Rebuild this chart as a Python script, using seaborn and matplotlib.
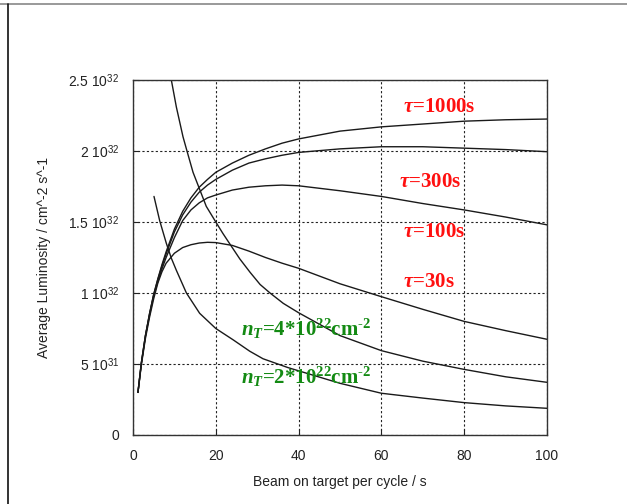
import numpy as np
import pandas as pd
import matplotlib
matplotlib.use('Agg')
import matplotlib.pyplot as plt
import seaborn as sns
from matplotlib.lines import Line2D

# beam on target per cycle (s); luminosity in units of 1e32 cm^-2 s^-1
t_rise = [1.2, 2, 3, 4, 5, 6, 7, 8, 10, 12, 14, 16, 18, 20, 24, 28, 32, 36, 40,
          50, 60, 70, 80, 90, 100]
lum_tau1000 = [0.30, 0.505, 0.70, 0.855, 0.99, 1.10, 1.20, 1.29, 1.45, 1.575, 1.67, 1.745, 1.80,
               1.85, 1.915, 1.97, 2.015, 2.055, 2.085, 2.14, 2.17, 2.19, 2.21, 2.22, 2.225]
lum_tau300 = [0.30, 0.505, 0.70, 0.855, 0.99, 1.095, 1.19, 1.275, 1.43, 1.55, 1.64, 1.71, 1.76,
              1.80, 1.865, 1.915, 1.945, 1.97, 1.99, 2.015, 2.03, 2.03, 2.02, 2.01, 1.995]
lum_tau100 = [0.30, 0.50, 0.695, 0.845, 0.98, 1.08, 1.17, 1.25, 1.39, 1.51, 1.585, 1.635, 1.67,
              1.69, 1.725, 1.745, 1.755, 1.76, 1.755, 1.72, 1.68, 1.63, 1.585, 1.535, 1.48]
lum_tau30 = [0.30, 0.49, 0.68, 0.83, 0.96, 1.07, 1.15, 1.21, 1.28, 1.32, 1.34, 1.352, 1.357,
             1.355, 1.335, 1.295, 1.25, 1.21, 1.174, 1.065, 0.974, 0.885, 0.80, 0.735, 0.674]

t_n4 = [9.26, 10.47, 12.08, 13.04, 14.5, 16.1, 17.7, 20.0, 21.7, 23.4, 25.8, 28.3, 30.7,
        33.1, 36.3, 40, 50, 60, 70, 80, 90, 100]
lum_n4 = [2.5, 2.31, 2.10, 2.0, 1.85, 1.73, 1.61, 1.50, 1.42, 1.345, 1.24, 1.145, 1.06,
          1.0, 0.927, 0.861, 0.70, 0.594, 0.52, 0.462, 0.41, 0.371]
t_n2 = [5.07, 6.44, 8.05, 9.26, 10.47, 12.9, 16.1, 20, 24.2, 28.2, 31.4, 37.4, 40, 50, 60,
        70, 80, 90, 100]
lum_n2 = [1.68, 1.51, 1.35, 1.245, 1.16, 1.0, 0.857, 0.75, 0.67, 0.59, 0.537, 0.475, 0.452,
          0.364, 0.294, 0.26, 0.228, 0.205, 0.188]

y_ticks = [0, 0.5, 1, 1.5, 2, 2.5]
y_labels = ['0', r'5 10$^{\mathsf{31}}$', r'1 10$^{\mathsf{32}}$', r'1.5 10$^{\mathsf{32}}$',
            r'2 10$^{\mathsf{32}}$', r'2.5 10$^{\mathsf{32}}$']
x_ticks = [0, 20, 40, 60, 80, 100]

sns.set_theme(style='white')
plt.rcParams['font.family'] = ['Liberation Sans', 'DejaVu Sans']
plt.rcParams['mathtext.fontset'] = 'custom'
plt.rcParams['mathtext.rm'] = 'Liberation Serif:bold'
plt.rcParams['mathtext.it'] = 'Liberation Serif:italic:bold'
plt.rcParams['mathtext.bf'] = 'Liberation Serif:bold'
plt.rcParams['mathtext.sf'] = 'Liberation Sans'

fig = plt.figure(figsize=(6.27, 5.04), dpi=100)
ax = fig.add_axes([133 / 627, 1 - 435 / 504, 414 / 627, 355 / 504])

curves = [(t_rise, lum_tau1000), (t_rise, lum_tau300), (t_rise, lum_tau100),
          (t_rise, lum_tau30), (t_n4, lum_n4), (t_n2, lum_n2)]
for xs, ys in curves:
    df = pd.DataFrame({'t': xs, 'L': ys})
    sns.lineplot(data=df, x='t', y='L', ax=ax, color='#1a1a1a', lw=1.0, sort=False)

ax.set_xlim(0, 100)
ax.set_ylim(0, 2.5)
ax.set_xticks(x_ticks)
ax.set_xticklabels([str(v) for v in x_ticks], fontsize=10, color='#222222')
ax.set_yticks(y_ticks)
ax.set_yticklabels(y_labels, fontsize=10, color='#222222')
ax.tick_params(direction='in', length=4, width=0.8, color='#222222', pad=10,
               left=True, bottom=True)
ax.grid(True, color='#222222', linestyle=(0, (2, 2)), linewidth=0.8)
for sp in ax.spines.values():
    sp.set_color('#333333')
    sp.set_linewidth(1.0)

ax.set_xlabel('Beam on target per cycle / s', fontsize=10, color='#222222', labelpad=9)
ax.set_ylabel('Average Luminosity / cm^-2 s^-1', fontsize=10, color='#222222', labelpad=12)

red = '#ff1010'
green = '#138a13'
tfont = dict(fontsize=15, fontweight='bold', family='Liberation Serif', ha='left', va='center')
ax.text(65.3, 2.31, r'$\tau$=1000s', color=red, **tfont)
ax.text(64.3, 1.785, r'$\tau$=300s', color=red, **tfont)
ax.text(65.3, 1.43, r'$\tau$=100s', color=red, **tfont)
ax.text(65.3, 1.08, r'$\tau$=30s', color=red, **tfont)
ax.text(26.0, 0.75, '$n_T$=4*10$^{22}$cm$^{\u20102}$', color=green, **tfont)
ax.text(26.0, 0.41, '$n_T$=2*10$^{22}$cm$^{\u20102}$', color=green, **tfont)

# frame of the original slide
fig.add_artist(Line2D([0, 1], [1 - 4 / 504, 1 - 4 / 504], color='#888888', lw=1.2,
                      transform=fig.transFigure))
fig.add_artist(Line2D([8 / 627, 8 / 627], [0, 1 - 4 / 504], color='#111111', lw=1.2,
                      transform=fig.transFigure))

fig.savefig('out.png', dpi=100)
